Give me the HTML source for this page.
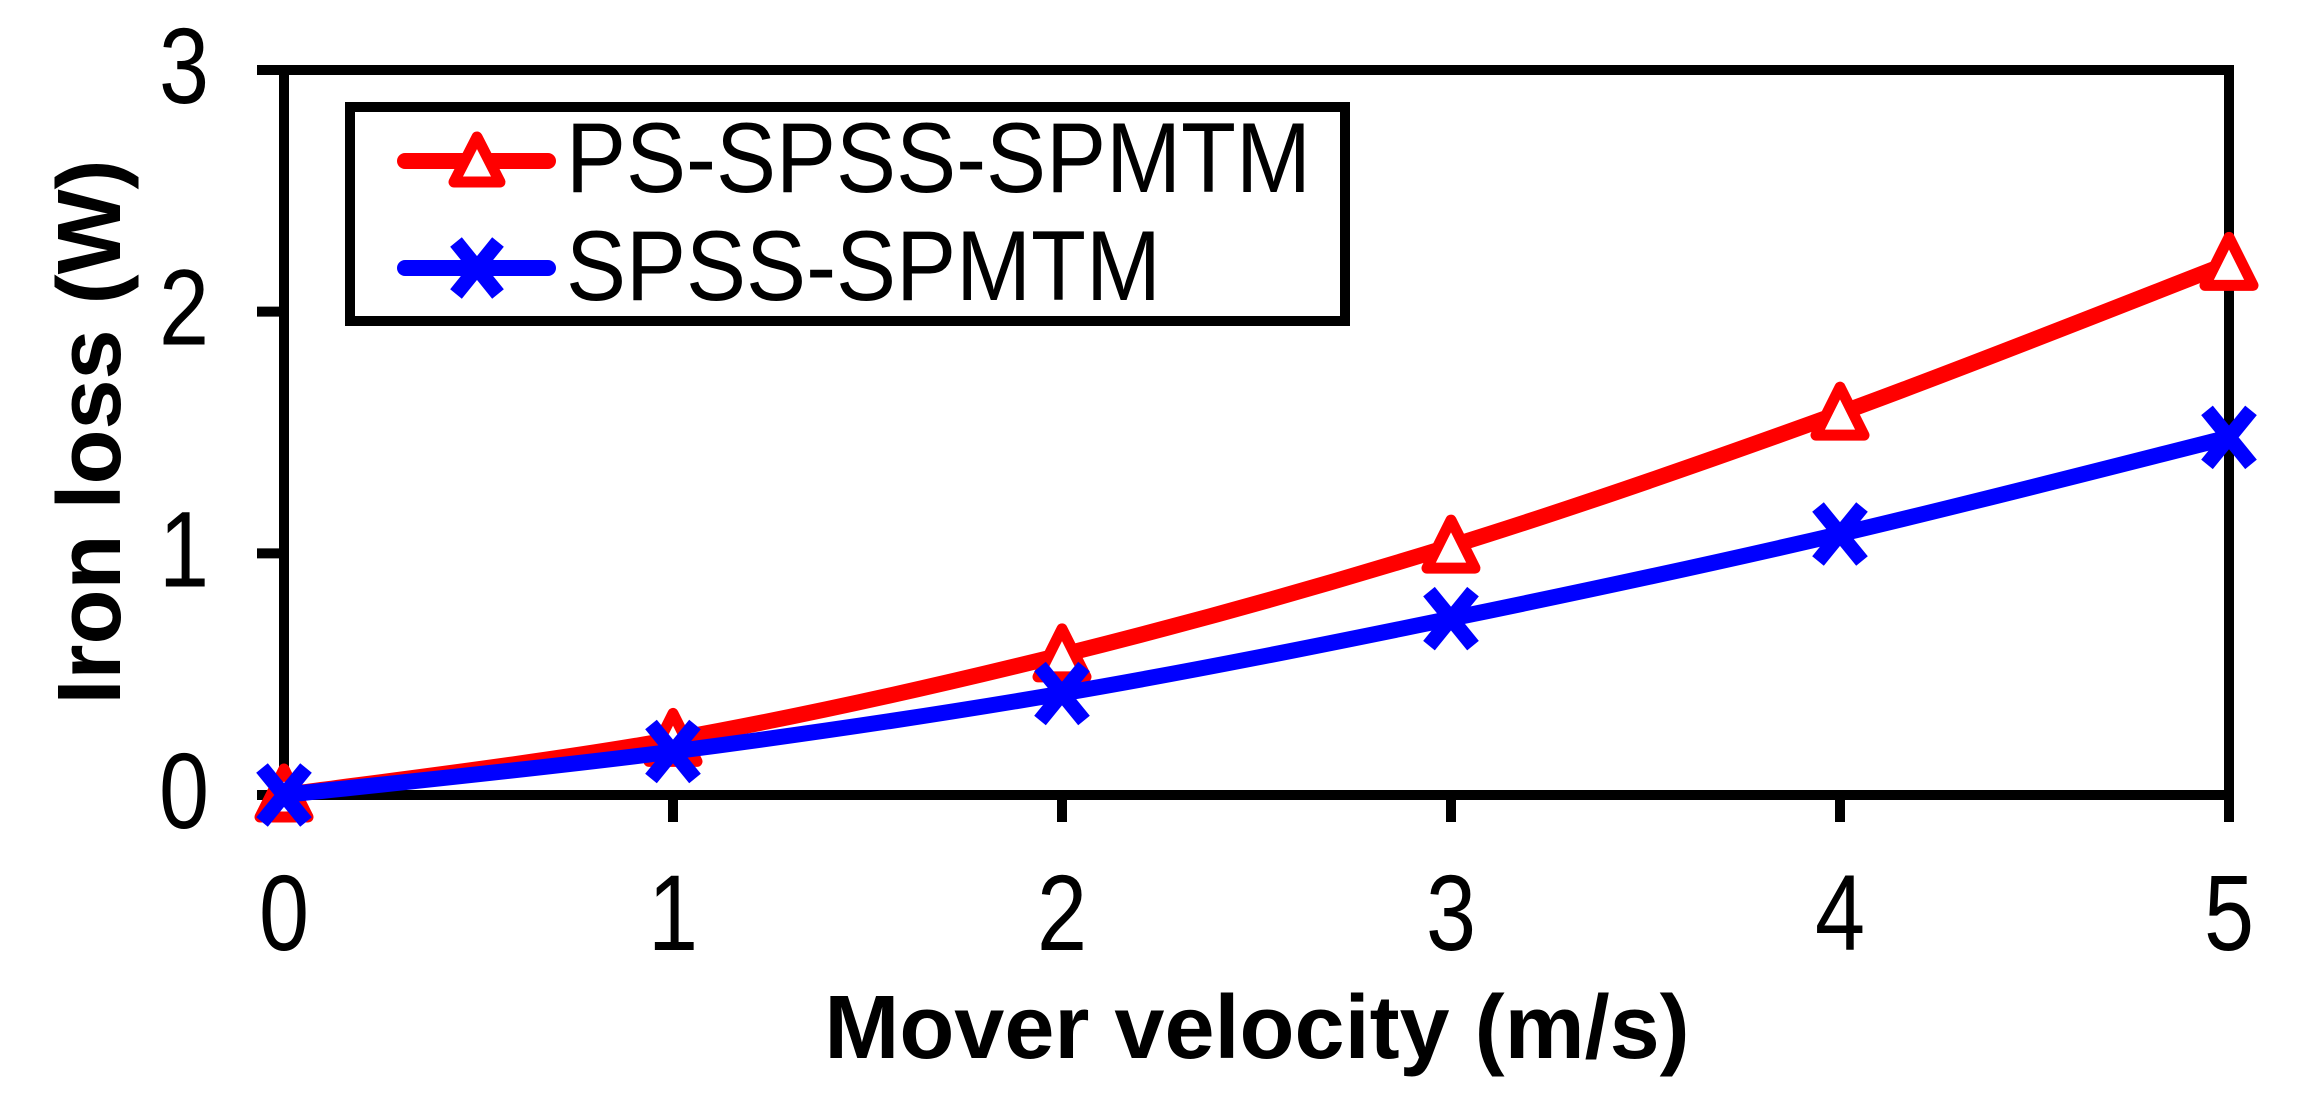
<!DOCTYPE html>
<html><head><meta charset="utf-8"><style>
html,body{margin:0;padding:0;background:#fff;}
svg{display:block;}
text{font-family:"Liberation Sans",Arial,sans-serif;fill:#000;}
</style></head><body>
<svg id="chart" width="2297" height="1113" viewBox="0 0 2297 1113" xmlns="http://www.w3.org/2000/svg">
<g id="axes"></g>
<g id="series"></g>
<g id="legend">
  <rect x="350" y="107" width="995" height="214" fill="#fff" stroke="#000" stroke-width="10"/>
  <line x1="405" y1="161" x2="548" y2="161" stroke="#ff0000" stroke-width="16" stroke-linecap="round"/>
  <path d="M477,137 L500,182 L454,182 Z" fill="#fff" stroke="#ff0000" stroke-width="11" stroke-linejoin="round"/>
  <text x="566" y="0" font-size="90" transform="translate(0,192) scale(1,1.1)">PS-SPSS-SPMTM</text>
  <line x1="405" y1="268" x2="548" y2="268" stroke="#0000ff" stroke-width="16" stroke-linecap="round"/>
  <path d="M456,242 L498,294 M498,242 L456,294" stroke="#0000ff" stroke-width="15"/>
  <text x="566" y="0" font-size="90" transform="translate(0,300) scale(1,1.1)">SPSS-SPMTM</text>
</g>
<text x="1257" y="1058" font-size="90" font-weight="bold" text-anchor="middle">Mover velocity (m/s)</text>
<text x="0" y="0" font-size="90" font-weight="bold" text-anchor="middle" transform="translate(120,432) rotate(-90)">Iron loss (W)</text>
</svg>
<script>
const xCategories = [0, 1, 2, 3, 4, 5];
const psSeries = [0, 0.23, 0.58, 1.03, 1.58, 2.20];
const spssSeries = [0, 0.18, 0.42, 0.73, 1.08, 1.48];
const yTicks = [0, 1, 2, 3];
const xTickLabels = ['0', '1', '2', '3', '4', '5'];
const yTickLabels = ['0', '1', '2', '3'];

const NS = 'http://www.w3.org/2000/svg';
const X0 = 284, X1 = 2229, Y0 = 795, Y1 = 70;
function xs(v){ return X0 + (v - 0) / 5 * (X1 - X0); }
function ys(v){ return Y0 - (v - 0) / 3 * (Y0 - Y1); }
function mk(tag, attrs, parent){ const e = document.createElementNS(NS, tag); for (const k in attrs) e.setAttribute(k, attrs[k]); parent.appendChild(e); return e; }

const axes = document.getElementById('axes');
const frame = mk('rect', {x: X0, y: Y1, width: X1 - X0, height: Y0 - Y1, fill: 'none', stroke: '#000', 'stroke-width': 10}, axes);


yTicks.forEach((t, i) => {
  const l = mk('line', {x1: 257, x2: X0, y1: ys(t), y2: ys(t), stroke: '#000', 'stroke-width': 10}, axes);
  
  
  const tx = mk('text', {x: 0, y: 0, 'font-size': 90, 'text-anchor': 'middle', transform: 'translate(184,' + (ys(t) + 33) + ') scale(1,1.2)'}, axes);
  tx.textContent = yTickLabels[i];
  
  
});
xCategories.forEach((c, i) => {
  const l = mk('line', {x1: xs(c), x2: xs(c), y1: Y0, y2: 822, stroke: '#000', 'stroke-width': 10}, axes);
  
  
  const tx = mk('text', {x: 0, y: 0, 'font-size': 90, 'text-anchor': 'middle', transform: 'translate(' + xs(c) + ',950) scale(1,1.2)'}, axes);
  tx.textContent = xTickLabels[i];
  
  
});

function smooth(pts){
  let d = 'M' + pts[0][0] + ',' + pts[0][1];
  for (let i = 0; i < pts.length - 1; i++) {
    const p0 = pts[i - 1] || pts[i], p1 = pts[i], p2 = pts[i + 1], p3 = pts[i + 2] || p2;
    const c1x = p1[0] + (p2[0] - p0[0]) / 6, c1y = p1[1] + (p2[1] - p0[1]) / 6;
    const c2x = p2[0] - (p3[0] - p1[0]) / 6, c2y = p2[1] - (p3[1] - p1[1]) / 6;
    d += ' C' + c1x + ',' + c1y + ' ' + c2x + ',' + c2y + ' ' + p2[0] + ',' + p2[1];
  }
  return d;
}
const series = document.getElementById('series');
function drawSeries(vals, color, name, marker){
  const pts = vals.map((v, i) => [xs(xCategories[i]), ys(v)]);
  const p = mk('path', {d: smooth(pts), fill: 'none', stroke: color, 'stroke-width': 16, 'stroke-linecap': 'round'}, series);
  
  
  pts.forEach(pt => {
    let m;
    if (marker === 'tri') {
      m = mk('path', {d: 'M' + pt[0] + ',' + (pt[1] - 26) + ' L' + (pt[0] + 24) + ',' + (pt[1] + 22) + ' L' + (pt[0] - 24) + ',' + (pt[1] + 22) + ' Z', fill: '#fff', stroke: color, 'stroke-width': 11, 'stroke-linejoin': 'round'}, series);
    } else {
      m = mk('path', {d: 'M' + (pt[0] - 22) + ',' + (pt[1] - 27) + ' L' + (pt[0] + 22) + ',' + (pt[1] + 27) + ' M' + (pt[0] + 22) + ',' + (pt[1] - 27) + ' L' + (pt[0] - 22) + ',' + (pt[1] + 27), stroke: color, 'stroke-width': 15}, series);
    }
    
    
  });
}
drawSeries(psSeries, '#ff0000', 'ps-spss-spmtm', 'tri');
drawSeries(spssSeries, '#0000ff', 'spss-spmtm', 'x');
</script>
</body></html>
